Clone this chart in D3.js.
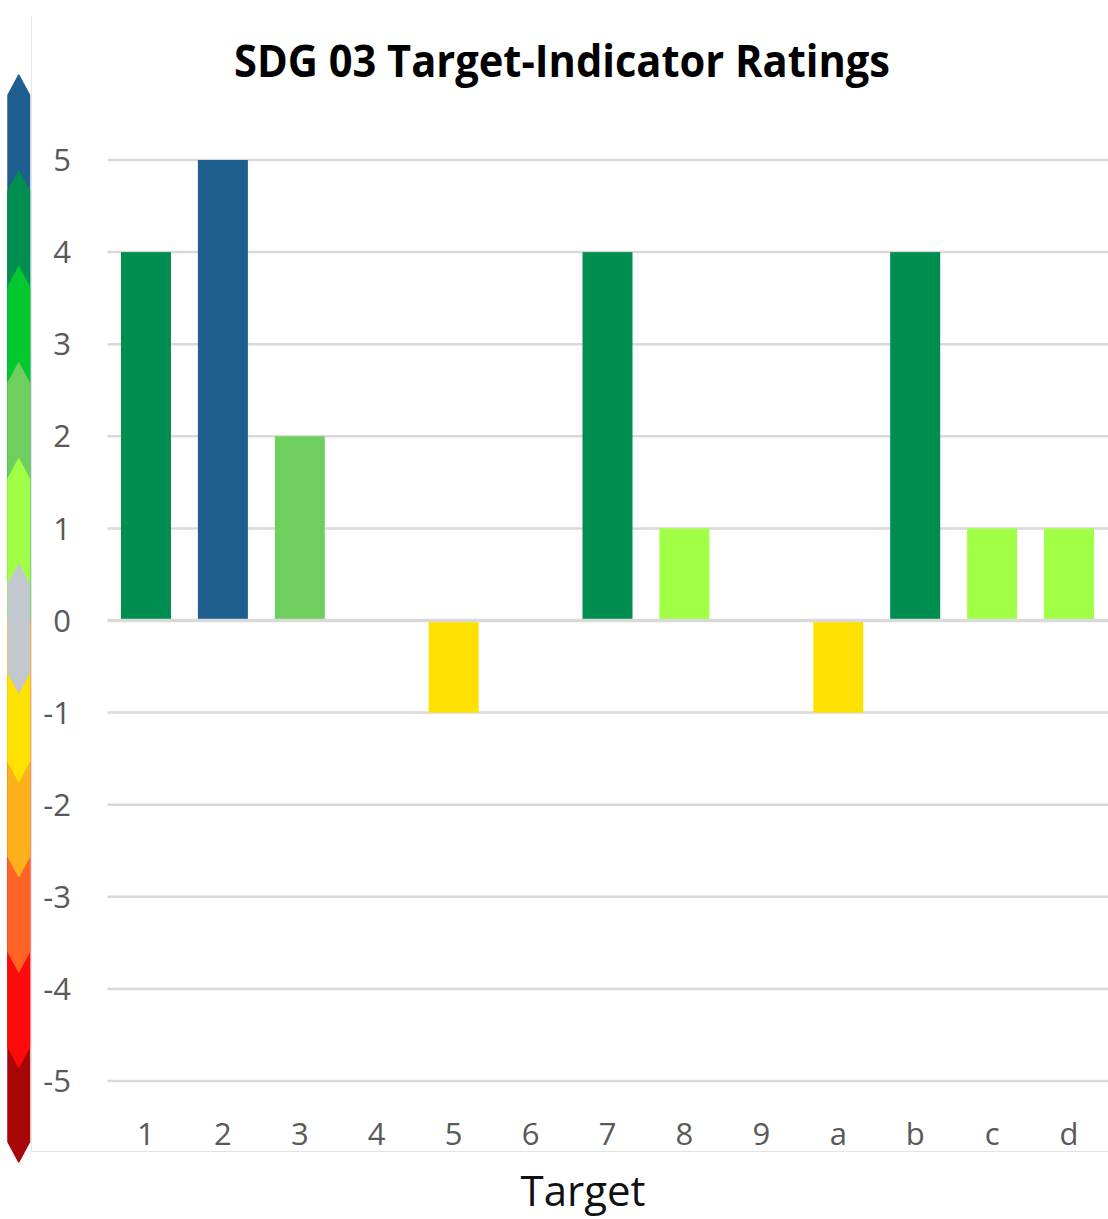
<!DOCTYPE html>
<html>
<head>
<meta charset="utf-8">
<script src="https://cdn.jsdelivr.net/npm/d3@7/dist/d3.min.js"></script>
<style>
  html, body { margin: 0; padding: 0; background: #fff; }
  svg { display: block; }
</style>
</head>
<body>
<svg id="chart" width="1108" height="1219"></svg>
<script>
// ---- data ----
const categories = ["1","2","3","4","5","6","7","8","9","a","b","c","d"];
const ratings = [4, 5, 2, 0, -1, 0, 4, 1, 0, -1, 4, 1, 1];
const yTickValues = [-5, -4, -3, -2, -1, 0, 1, 2, 3, 4, 5];
const ratingLevels = [5, 4, 3, 2, 1, 0, -1, -2, -3, -4, -5];
const ratingColors = ["#1f5f8f", "#008d50", "#00c82e", "#6ecf5e", "#a1ff45", "#c3c8cf",
                      "#ffe100", "#ffb11b", "#ff6424", "#ff0a0a", "#a80606"];
const titleText = "SDG 03 Target-Indicator Ratings";
const xAxisTitle = "Target";

// ---- setup ----
const svg = d3.select("#chart");
const W = 1108, H = 1219;
const plotLeft = 107.5, plotRight = 1107.5;

const x = d3.scaleBand().domain(categories).range([plotLeft, plotRight])
  .paddingInner(0.35).paddingOuter(0.175);
const y = d3.scaleLinear().domain([-5, 5]).range([1081, 160]);
const color = d3.scaleOrdinal().domain(ratingLevels).range(ratingColors);

// chart area border lines
svg.append("line").attr("x1", 31.5).attr("x2", 31.5).attr("y1", 16).attr("y2", 1151)
  .attr("stroke", "#e6e6e6").attr("stroke-width", 1);
svg.append("line").attr("x1", 31).attr("x2", W).attr("y1", 1151.5).attr("y2", 1151.5)
  .attr("stroke", "#e3e3e3").attr("stroke-width", 1);

// gridlines
svg.append("g").selectAll("line").data(yTickValues.filter(v => v !== 0)).join("line")
  .attr("x1", plotLeft).attr("x2", W)
  .attr("y1", d => y(d)).attr("y2", d => y(d))
  .attr("stroke", "#d9d9d9").attr("stroke-width", 2.5);

// bars
svg.append("g").selectAll("rect").data(categories.map((c, i) => ({c, v: ratings[i]})).filter(d => d.v !== 0))
  .join("rect")
  .attr("x", d => x(d.c))
  .attr("width", x.bandwidth())
  .attr("y", d => Math.min(y(d.v), y(0)))
  .attr("height", d => Math.abs(y(d.v) - y(0)))
  .attr("fill", d => color(d.v));

// zero line
svg.append("line").attr("x1", plotLeft).attr("x2", W).attr("y1", y(0)).attr("y2", y(0))
  .attr("stroke", "#d9d9d9").attr("stroke-width", 3.5);

// y tick labels
svg.append("g").selectAll("text").data(yTickValues).join("text")
  .attr("x", 71).attr("y", d => y(d))
  .attr("dy", "0.36em")
  .attr("text-anchor", "end")
  .attr("font-family", "'Open Sans', sans-serif")
  .attr("font-size", 31)
  .attr("fill", "#595959")
  .text(d => d);

// x tick labels
svg.append("g").selectAll("text").data(categories).join("text")
  .attr("x", d => x(d) + x.bandwidth() / 2).attr("y", 1145)
  .attr("text-anchor", "middle")
  .attr("font-family", "'Open Sans', sans-serif")
  .attr("font-size", 31)
  .attr("fill", "#595959")
  .text(d => d);

// x axis title
svg.append("text").attr("x", 583).attr("y", 1206)
  .attr("text-anchor", "middle")
  .attr("font-family", "'Open Sans', sans-serif")
  .attr("font-size", 42)
  .attr("fill", "#111")
  .text(xAxisTitle);

// title
svg.append("text").attr("x", 562).attr("y", 77)
  .attr("text-anchor", "middle")
  .attr("font-family", "'Open Sans', sans-serif")
  .attr("font-weight", "bold")
  .attr("font-size", 44)
  .attr("fill", "#000")
  .attr("textLength", 656)
  .attr("lengthAdjust", "spacingAndGlyphs")
  .text(titleText);

// ---- colour legend bar (chevron segments) ----
const lg = d3.scaleLinear().domain([5.5, 0.5, -0.5, -5.5]).range([75, 555, 686, 1162]);
const bx0 = 8, bx1 = 29.5, bxm = (bx0 + bx1) / 2, tipH = 20;
const legend = svg.append("g");
const posLevels = ratingLevels.filter(v => v > 0);           // 5..1, drawn top to bottom
const negLevels = ratingLevels.filter(v => v < 0).reverse(); // -5..-1, drawn bottom to top
const yMid = lg(0);

posLevels.forEach(v => {
  const t = lg(v + 0.5);
  legend.append("path")
    .attr("d", `M${bx0},${t + tipH} L${bxm},${t} L${bx1},${t + tipH} L${bx1},${yMid} L${bx0},${yMid} Z`)
    .attr("fill", color(v)).attr("stroke", color(v)).attr("stroke-width", 1.5).attr("stroke-linejoin", "round");
});
negLevels.forEach(v => {
  const b = lg(v - 0.5);
  legend.append("path")
    .attr("d", `M${bx0},${b - tipH} L${bxm},${b} L${bx1},${b - tipH} L${bx1},${yMid} L${bx0},${yMid} Z`)
    .attr("fill", color(v)).attr("stroke", color(v)).attr("stroke-width", 1.5).attr("stroke-linejoin", "round");
});
{
  const t = lg(0.5) + 9, b = lg(-0.5) + 7;
  legend.append("path")
    .attr("d", `M${bxm},${t} L${bx1},${t + tipH} L${bx1},${b - tipH} L${bxm},${b} L${bx0},${b - tipH} L${bx0},${t + tipH} Z`)
    .attr("fill", color(0)).attr("stroke", color(0)).attr("stroke-width", 1).attr("stroke-linejoin", "round");
}
</script>
</body>
</html>
